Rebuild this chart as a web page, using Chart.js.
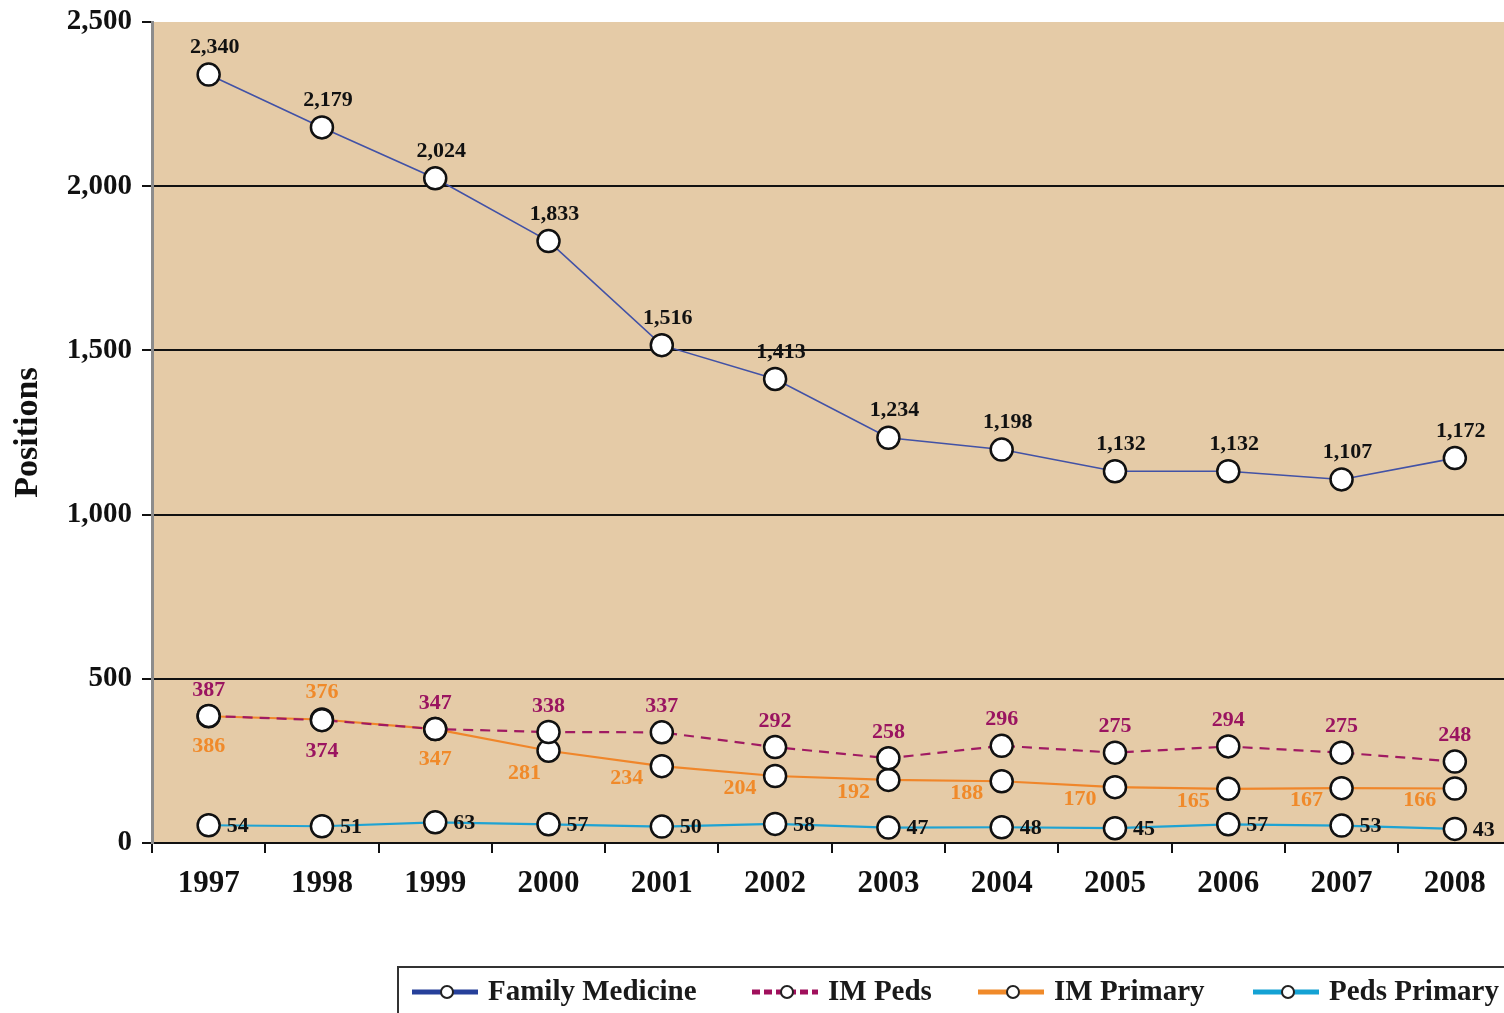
<!DOCTYPE html>
<html>
<head>
<meta charset="utf-8">
<title>Positions 1997–2008</title>
<script src="https://cdn.jsdelivr.net/npm/chart.js@4.4.0/dist/chart.umd.min.js"></script>
<style>
  html, body { margin: 0; padding: 0; background: #ffffff; overflow: hidden; }
  #wrap { width: 1525px; height: 1013px; position: relative; }
  #c { display: block; width: 1525px; height: 1013px; }
</style>
</head>
<body>
<div id="wrap"><canvas id="c" width="1525" height="1013"></canvas></div>
<script>
// Match years
const years = ['1997', '1998', '1999', '2000', '2001', '2002', '2003', '2004', '2005', '2006', '2007', '2008'];

// Positions offered per program
const familyMedicine = [2340, 2179, 2024, 1833, 1516, 1413, 1234, 1198, 1132, 1132, 1107, 1172];
const imPeds         = [387, 374, 347, 338, 337, 292, 258, 296, 275, 294, 275, 248];
const imPrimary      = [386, 376, 347, 281, 234, 204, 192, 188, 170, 165, 167, 166];
const pedsPrimary    = [54, 51, 63, 57, 50, 58, 47, 48, 45, 57, 53, 43];

// Y axis tick values
const yTicks = [0, 500, 1000, 1500, 2000, 2500];

const seriesNames  = ['Family Medicine', 'IM Peds', 'IM Primary', 'Peds Primary'];
const seriesColors = ['#4252a6', '#a01a62', '#f0862a', '#1fa3d3'];
const legendColors = ['#26409a', '#a0105c', '#f08a2a', '#14a2d4'];
const labelColors  = ['#111111', '#9a1460', '#f08a2a', '#111111'];

const SERIF = '"Liberation Serif", "DejaVu Serif", serif';
const fmt = v => v.toLocaleString('en-US');

// Where each value label sits relative to its marker
function labelPlacement(ds, i) {
  if (ds === 0) return { dx: 6, dy: -27, align: 'center' };
  if (ds === 1) return i === 1 ? { dx: 0, dy: 31, align: 'center' } : { dx: 0, dy: -26, align: 'center' };
  if (ds === 2) {
    if (i === 0 || i === 2) return { dx: 0, dy: 30, align: 'center' };
    if (i === 1) return { dx: 0, dy: -27, align: 'center' };
    if (i === 3) return { dx: -24, dy: 23, align: 'center' };
    return { dx: -35, dy: 12, align: 'center' };
  }
  return { dx: 18, dy: 1, align: 'left' };
}

// Keep the plot area fixed: drop the automatic edge padding the scales request
function noScalePadding(scale) {
  scale.paddingTop = 0;
  scale.paddingBottom = 0;
  scale.paddingLeft = 0;
  scale.paddingRight = 0;
}

const plotBackground = {
  id: 'plotBackground',
  beforeDraw(chart) {
    const { ctx, chartArea: a } = chart;
    ctx.save();
    ctx.fillStyle = '#e5cba7';
    ctx.fillRect(a.left, a.top, a.right - a.left, a.bottom - a.top);
    ctx.restore();
  }
};

const valueLabels = {
  id: 'valueLabels',
  afterDatasetsDraw(chart) {
    const ctx = chart.ctx;
    ctx.save();
    ctx.font = 'bold 22px ' + SERIF;
    ctx.textBaseline = 'middle';
    chart.data.datasets.forEach((ds, d) => {
      const meta = chart.getDatasetMeta(d);
      meta.data.forEach((pt, i) => {
        const p = labelPlacement(d, i);
        ctx.textAlign = p.align;
        ctx.fillStyle = labelColors[d];
        ctx.fillText(fmt(ds.data[i]), pt.x + p.dx, pt.y + p.dy);
      });
    });
    ctx.restore();
  }
};

const boxedLegend = {
  id: 'boxedLegend',
  afterDraw(chart) {
    const ctx = chart.ctx;
    const top = 967, midY = 992;
    const starts = [412, 752, 978, 1253];
    ctx.save();
    ctx.strokeStyle = '#333333';
    ctx.lineWidth = 2;
    ctx.strokeRect(398, top, 1200, 80);
    ctx.font = 'bold 29px ' + SERIF;
    ctx.textBaseline = 'middle';
    ctx.textAlign = 'left';
    starts.forEach((sx, k) => {
      ctx.strokeStyle = legendColors[k];
      ctx.lineWidth = 5;
      ctx.setLineDash(k === 1 ? [8, 4] : []);
      ctx.beginPath();
      ctx.moveTo(sx, midY);
      ctx.lineTo(sx + 66, midY);
      ctx.stroke();
      ctx.setLineDash([]);
      ctx.beginPath();
      ctx.arc(sx + 35, midY, 6, 0, Math.PI * 2);
      ctx.fillStyle = '#ffffff';
      ctx.fill();
      ctx.lineWidth = 2;
      ctx.strokeStyle = '#222222';
      ctx.stroke();
      ctx.fillStyle = '#1a1a1a';
      ctx.fillText(seriesNames[k], sx + 76, midY + 1);
    });
    ctx.restore();
  }
};

const seriesData = [familyMedicine, imPeds, imPrimary, pedsPrimary];
const datasets = seriesData.map((vals, k) => ({
  label: seriesNames[k],
  data: vals,
  borderColor: seriesColors[k],
  borderWidth: k === 0 ? 1.6 : 2.2,
  borderDash: k === 1 ? [10, 7] : [],
  pointRadius: 11,
  pointBorderWidth: 2.5,
  pointBackgroundColor: '#ffffff',
  pointBorderColor: '#111111',
  tension: 0,
  fill: false,
  order: k
}));

new Chart(document.getElementById('c'), {
  type: 'line',
  data: { labels: years, datasets },
  options: {
    responsive: false,
    animation: false,
    layout: { padding: { top: 22, right: 4, left: 0, bottom: 0 } },
    plugins: { legend: { display: false }, tooltip: { enabled: false } },
    scales: {
      x: {
        type: 'category',
        offset: true,
        afterFit(scale) { scale.height = 170; noScalePadding(scale); },
        grid: { display: true, offset: true, drawOnChartArea: false, drawTicks: true, tickLength: 10, tickColor: '#111111', lineWidth: 2 },
        border: { display: true, color: '#111111', width: 2 },
        ticks: { color: '#111111', padding: 12, font: { family: SERIF, size: 31, weight: 'bold' } }
      },
      y: {
        min: 0,
        max: 2500,
        afterFit(scale) { scale.width = 152; noScalePadding(scale); },
        afterBuildTicks(scale) { scale.ticks = yTicks.map(v => ({ value: v })); },
        grid: {
          color: c => (c.tick && (c.tick.value === 0 || c.tick.value === 2500)) ? 'rgba(0,0,0,0)' : '#111111',
          lineWidth: 2,
          tickColor: '#111111',
          tickLength: 10,
          drawTicks: true
        },
        border: { display: true, color: '#8c8c8c', width: 3 },
        ticks: {
          color: '#111111',
          padding: 10,
          font: { family: SERIF, size: 29, weight: 'bold' },
          callback: v => fmt(v)
        },
        title: {
          display: true,
          text: 'Positions',
          color: '#111111',
          padding: { top: 8, bottom: 0 },
          font: { family: SERIF, size: 34, weight: 'bold' }
        }
      }
    }
  },
  plugins: [plotBackground, valueLabels, boxedLegend]
});
</script>
</body>
</html>
